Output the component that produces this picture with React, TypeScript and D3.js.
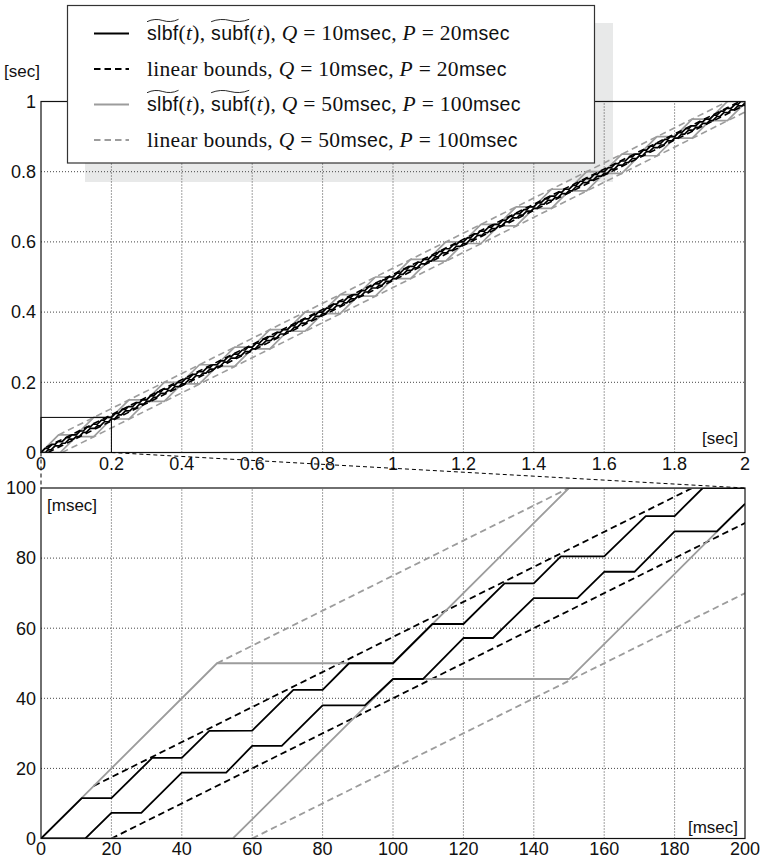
import React, { useRef, useLayoutEffect, useState } from 'react';
import * as d3 from 'd3';

const W = 762, H = 864;

// ---- data (msec) ----
const blackSubf: [number, number][] = [
  [0, 0], [11.6, 11.5], [20, 11.5], [31.6, 23], [40, 23], [47.8, 30.7], [60, 30.8], [71.7, 42.4], [80, 42.4],
  [87.5, 50], [100, 50], [111.2, 61.2], [120, 61.2], [131.7, 72.8], [140, 72.8], [147.7, 80.5], [160, 80.5],
  [171.8, 92], [180, 92], [188, 100], [200, 100]];
const blackSlbf: [number, number][] = [
  [0, 0], [12.6, 0], [20, 7.3], [28.5, 7.3], [40, 18.8], [52.6, 18.8], [60, 26.4], [68.4, 26.4], [80, 38],
  [92, 38], [100, 45.5], [108.5, 45.5], [120, 57.2], [128.4, 57.2], [140, 68.6], [152.4, 68.6], [160, 76.1],
  [168.6, 76.1], [180, 87.6], [192, 87.6], [200, 95.5]];
const graySubf: [number, number][] = [[0, 0], [50, 50], [100, 50], [150, 100], [200, 100]];
const graySlbf: [number, number][] = [[0, 0], [54.5, 0], [100, 45.5], [150, 45.5], [200, 95.5]];
const blackLinUpper: [number, number][] = [[15, 15], [2000, 1007.5]];
const blackLinLower: [number, number][] = [[20, 0], [2000, 990]];
const grayLinUpper: [number, number][] = [[50, 50], [2000, 1025]];
const grayLinLower: [number, number][] = [[60, 0], [2000, 970]];

const topXTicks = [0, 0.2, 0.4, 0.6, 0.8, 1, 1.2, 1.4, 1.6, 1.8, 2];
const topYTicks = [0, 0.2, 0.4, 0.6, 0.8, 1];
const botXTicks = [0, 20, 40, 60, 80, 100, 120, 140, 160, 180, 200];
const botYTicks = [0, 20, 40, 60, 80, 100];

// curves repeat every 100 msec with 50 msec of supply
function extendPeriodic(pts: [number, number][], start: number, period: number, rise: number, end: number) {
  const seg = pts.filter(p => p[0] > start && p[0] <= start + period);
  const out = pts.slice();
  for (let k = 1; start + period * k < end; k++) {
    seg.forEach(p => out.push([p[0] + period * k, p[1] + rise * k]));
  }
  return out;
}

const BLACK = '#000';
const GRAY = '#9c9c9c';
const DASH = '6.5,4';

type Seg = { t: string; f: 'sans' | 'serif' | 'ital' };
const SERIF = '"Liberation Serif", "Times New Roman", serif';
const SANS = '"Liberation Sans", Arial, sans-serif';

const legendRows: { segs: Seg[]; color: string; dash?: string }[] = [
  { color: BLACK, segs: [{ t: 'slbf', f: 'sans' }, { t: '(', f: 'serif' }, { t: 't', f: 'ital' }, { t: '), ', f: 'serif' }, { t: 'subf', f: 'sans' }, { t: '(', f: 'serif' }, { t: 't', f: 'ital' }, { t: '), ', f: 'serif' }, { t: 'Q', f: 'ital' }, { t: ' = 10', f: 'serif' }, { t: 'msec', f: 'sans' }, { t: ', ', f: 'serif' }, { t: 'P', f: 'ital' }, { t: ' = 20', f: 'serif' }, { t: 'msec', f: 'sans' }] },
  { color: BLACK, dash: DASH, segs: [{ t: 'linear bounds, ', f: 'serif' }, { t: 'Q', f: 'ital' }, { t: ' = 10', f: 'serif' }, { t: 'msec', f: 'sans' }, { t: ', ', f: 'serif' }, { t: 'P', f: 'ital' }, { t: ' = 20', f: 'serif' }, { t: 'msec', f: 'sans' }] },
  { color: GRAY, segs: [{ t: 'slbf', f: 'sans' }, { t: '(', f: 'serif' }, { t: 't', f: 'ital' }, { t: '), ', f: 'serif' }, { t: 'subf', f: 'sans' }, { t: '(', f: 'serif' }, { t: 't', f: 'ital' }, { t: '), ', f: 'serif' }, { t: 'Q', f: 'ital' }, { t: ' = 50', f: 'serif' }, { t: 'msec', f: 'sans' }, { t: ', ', f: 'serif' }, { t: 'P', f: 'ital' }, { t: ' = 100', f: 'serif' }, { t: 'msec', f: 'sans' }] },
  { color: GRAY, dash: DASH, segs: [{ t: 'linear bounds, ', f: 'serif' }, { t: 'Q', f: 'ital' }, { t: ' = 50', f: 'serif' }, { t: 'msec', f: 'sans' }, { t: ', ', f: 'serif' }, { t: 'P', f: 'ital' }, { t: ' = 100', f: 'serif' }, { t: 'msec', f: 'sans' }] },
];

export default function App() {
  const L = 41, R = 745;
  const xT = d3.scaleLinear().domain([0, 2]).range([L, R]);
  const yT = d3.scaleLinear().domain([0, 1]).range([452.5, 101.5]);
  const xB = d3.scaleLinear().domain([0, 200]).range([L, R]);
  const yB = d3.scaleLinear().domain([0, 100]).range([838.5, 488]);

  const lineT = d3.line<[number, number]>().x(d => xT(d[0] / 1000)).y(d => yT(d[1] / 1000));
  const lineB = d3.line<[number, number]>().x(d => xB(d[0])).y(d => yB(d[1]));

  const topSeries = [
    { d: grayLinUpper, c: GRAY, dash: DASH, w: 1.6 },
    { d: grayLinLower, c: GRAY, dash: DASH, w: 1.6 },
    { d: extendPeriodic(graySubf, 100, 100, 50, 2000), c: GRAY, w: 1.7 },
    { d: extendPeriodic(graySlbf, 100, 100, 50, 2000), c: GRAY, w: 1.7 },
    { d: blackLinUpper, c: BLACK, dash: DASH, w: 1.6 },
    { d: blackLinLower, c: BLACK, dash: DASH, w: 1.6 },
    { d: extendPeriodic(blackSubf, 100, 100, 50, 2000), c: BLACK, w: 1.7 },
    { d: extendPeriodic(blackSlbf, 100, 100, 50, 2000), c: BLACK, w: 1.7 },
  ];
  const botSeries = [
    { d: grayLinUpper, c: GRAY, dash: DASH, w: 1.8 },
    { d: grayLinLower, c: GRAY, dash: DASH, w: 1.8 },
    { d: blackLinUpper, c: BLACK, dash: DASH, w: 1.8 },
    { d: blackLinLower, c: BLACK, dash: DASH, w: 1.8 },
    { d: graySubf, c: GRAY, w: 1.8 },
    { d: graySlbf, c: GRAY, w: 1.8 },
    { d: blackSubf, c: BLACK, w: 1.8 },
    { d: blackSlbf, c: BLACK, w: 1.8 },
  ];

  const textRefs = useRef<(SVGTextElement | null)[]>([]);
  const [tildes, setTildes] = useState<{ x0: number; x1: number; y: number }[]>([]);

  const rowY = [33.5, 69, 104.5, 140];
  const legX0 = 94, legX1 = 129, textX = 147;

  useLayoutEffect(() => {
    const out: { x0: number; x1: number; y: number }[] = [];
    legendRows.forEach((row, i) => {
      const el = textRefs.current[i];
      if (!el) return;
      const full = row.segs.map(s => s.t).join('');
      ['slbf', 'subf'].forEach(word => {
        const idx = full.indexOf(word);
        if (idx < 0) return;
        try {
          const a = el.getStartPositionOfChar(idx).x;
          const b = el.getEndPositionOfChar(idx + word.length - 1).x;
          out.push({ x0: a, x1: b, y: rowY[i] - 13 });
        } catch (e) { /* ignore */ }
      });
    });
    setTildes(out);
  }, []);

  const gridStyle = { stroke: '#444', strokeWidth: 1, strokeDasharray: '1,2' };

  return (
    <svg width={W} height={H} style={{ position: 'absolute', left: 0, top: 0, background: '#fff' }}
      fontFamily={SANS}>
      <defs>
        <clipPath id="clipT"><rect x={L} y={yT(1)} width={R - L} height={yT(0) - yT(1)} /></clipPath>
        <clipPath id="clipB"><rect x={L} y={yB(100)} width={R - L} height={yB(0) - yB(100)} /></clipPath>
      </defs>

      {/* legend shadow */}
      <rect x={85} y={23} width={528} height={159} fill="#e8e9e9" />

      {/* ---------- top panel ---------- */}
      <g>
        {topXTicks.slice(1, -1).map(t => (
          <line key={'tx' + t} x1={xT(t)} x2={xT(t)} y1={yT(0)} y2={yT(1)} style={gridStyle} />
        ))}
        {topYTicks.slice(1, -1).map(t => (
          <line key={'ty' + t} y1={yT(t)} y2={yT(t)} x1={L} x2={R} style={gridStyle} />
        ))}
        <g clipPath="url(#clipT)">
          {topSeries.map((s, i) => (
            <path key={i} d={lineT(s.d) || ''} fill="none" stroke={s.c} strokeWidth={s.w}
              strokeDasharray={s.dash} strokeLinejoin="round" />
          ))}
        </g>
        {/* zoom rectangle */}
        <rect x={xT(0)} y={yT(0.1)} width={xT(0.2) - xT(0)} height={yT(0) - yT(0.1)} fill="none" stroke="#000" strokeWidth={1} />
        <rect x={L} y={yT(1)} width={R - L} height={yT(0) - yT(1)} fill="none" stroke="#111" strokeWidth={1.2} />
        {topXTicks.map(t => (
          <text key={'txl' + t} x={xT(t)} y={yT(0) + 17} textAnchor="middle" fontSize={18} fill="#111">{String(t)}</text>
        ))}
        {topYTicks.map(t => (
          <text key={'tyl' + t} x={36} y={yT(t)} dy="0.35em" textAnchor="end" fontSize={18} fill="#111">{String(t)}</text>
        ))}
        <text x={4} y={77} fontSize={17} fill="#111">[sec]</text>
        <text x={738} y={yT(0) - 9} textAnchor="end" fontSize={17} fill="#111">[sec]</text>
      </g>

      {/* zoom connector lines */}
      <line x1={xT(0)} y1={yT(0)} x2={xB(0)} y2={yB(100)} stroke="#000" strokeWidth={1} strokeDasharray="4,3" />
      <line x1={xT(0.2)} y1={yT(0)} x2={xB(200)} y2={yB(100)} stroke="#000" strokeWidth={1} strokeDasharray="4,3" />

      {/* ---------- bottom panel ---------- */}
      <g>
        {botXTicks.slice(1, -1).map(t => (
          <line key={'bx' + t} x1={xB(t)} x2={xB(t)} y1={yB(0)} y2={yB(100)} style={gridStyle} />
        ))}
        {botYTicks.slice(1, -1).map(t => (
          <line key={'by' + t} y1={yB(t)} y2={yB(t)} x1={L} x2={R} style={gridStyle} />
        ))}
        <g clipPath="url(#clipB)">
          {botSeries.map((s, i) => (
            <path key={i} d={lineB(s.d) || ''} fill="none" stroke={s.c} strokeWidth={s.w}
              strokeDasharray={s.dash} strokeLinejoin="round" />
          ))}
        </g>
        <rect x={L} y={yB(100)} width={R - L} height={yB(0) - yB(100)} fill="none" stroke="#111" strokeWidth={1.2} />
        {botXTicks.map(t => (
          <text key={'bxl' + t} x={xB(t)} y={yB(0) + 16} textAnchor="middle" fontSize={18} fill="#111">{String(t)}</text>
        ))}
        {botYTicks.map(t => (
          <text key={'byl' + t} x={36} y={yB(t)} dy="0.35em" textAnchor="end" fontSize={18} fill="#111">{String(t)}</text>
        ))}
        <text x={47} y={yB(100) + 23} fontSize={17} fill="#111">[msec]</text>
        <text x={738} y={yB(0) - 6} textAnchor="end" fontSize={17} fill="#111">[msec]</text>
      </g>

      {/* ---------- legend ---------- */}
      <rect x={67.5} y={5.5} width={527} height={157.5} fill="#fff" stroke="#333" strokeWidth={1.2} />
      {legendRows.map((row, i) => (
        <g key={'leg' + i}>
          <line x1={legX0} x2={legX1} y1={rowY[i]} y2={rowY[i]} stroke={row.color} strokeWidth={1.8}
            strokeDasharray={row.dash} />
          <text ref={el => { textRefs.current[i] = el; }} x={textX} y={rowY[i] + 6.5} fontSize={21}
            fill="#111" style={{ whiteSpace: 'pre', letterSpacing: '0.3px' }}>
            {row.segs.map((s, j) => (
              <tspan key={j} fontFamily={s.f === 'sans' ? SANS : SERIF}
                fontStyle={s.f === 'ital' ? 'italic' : 'normal'}
                fontSize={s.f === 'sans' ? 19.5 : 21.5}>{s.t}</tspan>
            ))}
          </text>
        </g>
      ))}
      {tildes.map((t, i) => {
        const w = t.x1 - t.x0;
        const d = `M${t.x0},${t.y + 1.2} Q${t.x0 + w / 4},${t.y - 2.6} ${t.x0 + w / 2},${t.y} T${t.x1},${t.y - 1.2}`;
        return <path key={'til' + i} d={d} fill="none" stroke="#111" strokeWidth={0.9} />;
      })}
    </svg>
  );
}
